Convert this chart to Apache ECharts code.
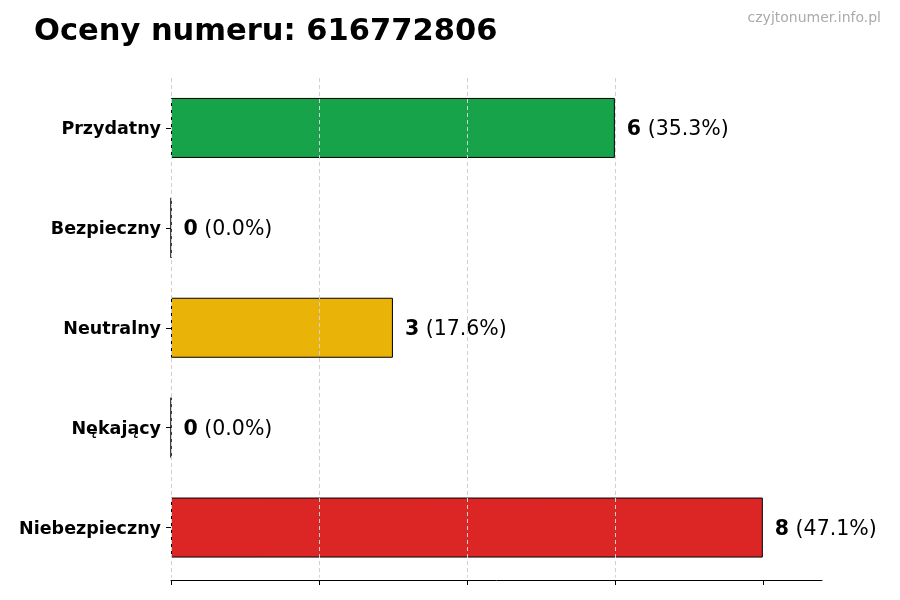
<!DOCTYPE html>
<html><head><meta charset="utf-8">
<script src="https://cdn.jsdelivr.net/npm/echarts@6/dist/echarts.min.js"></script>
<style>html,body{margin:0;padding:0;background:#fff}#c{width:900px;height:600px}</style>
</head><body><div id="c"></div>
<script>
const categories = ['Przydatny', 'Bezpieczny', 'Neutralny', 'Nękający', 'Niebezpieczny'];
const values = [6, 0, 3, 0, 8];
const colors = ['#16a34a', '#16a34a', '#eab308', '#dc2626', '#dc2626'];
const xTicks = [0, 2, 4, 6, 8];
const total = values.reduce((a, b) => a + b, 0);

const chart = echarts.init(document.getElementById('c'));
chart.setOption({
  animation: false,
  title: [{
    text: 'Oceny numeru: 616772806', left: 29, top: 12,
    textStyle: { fontFamily: 'DejaVu Sans', fontWeight: 'bold', fontSize: 30.5, color: '#000' }
  }, {
    text: 'czyjtonumer.info.pl', right: 14, top: 6,
    textStyle: { fontFamily: 'DejaVu Sans', fontWeight: 'normal', fontSize: 14, color: '#aaaaaa' }
  }],
  grid: { left: 171, right: 78, top: 78, bottom: 22.5 },
  xAxis: {
    type: 'value', min: 0, max: 8.8, interval: 2, z: 5, offset: 2.5,
    axisLine: { show: true, onZero: false, lineStyle: { color: '#000', width: 1 } },
    axisTick: { show: true, length: 5, customValues: xTicks, lineStyle: { color: '#000' } },
    axisLabel: { show: false },
    splitLine: { show: true, showMaxLine: false, lineStyle: { color: '#d0d0d0', type: [4, 3], width: 1 } }
  },
  yAxis: {
    type: 'category', data: categories, inverse: true,
    axisLine: { show: false },
    axisTick: { show: true, alignWithLabel: true, length: 5, lineStyle: { color: '#000' } },
    axisLabel: {
      margin: 10,
      formatter: v => '{a|' + v + '}',
      rich: { a: { fontFamily: 'DejaVu Sans', fontWeight: 'bold', fontSize: 17.5, color: '#000', padding: [4, 0, 0, 0] } }
    }
  },
  series: [{
    type: 'bar', barWidth: 60,
    data: values.map((v, i) => ({ value: v, itemStyle: { color: colors[i] } })),
    itemStyle: { borderColor: '#000', borderWidth: 1 },
    label: {
      show: true, position: 'right', distance: 12, padding: [4, 0, 0, 0],
      formatter: p => '{b|' + p.value + '}{n| (' + (p.value / total * 100).toFixed(1) + '%)}',
      rich: {
        b: { fontFamily: 'DejaVu Sans', fontWeight: 'bold', fontSize: 20.5, color: '#000' },
        n: { fontFamily: 'DejaVu Sans', fontSize: 20.5, color: '#000' }
      }
    }
  }]
});
</script></body></html>
